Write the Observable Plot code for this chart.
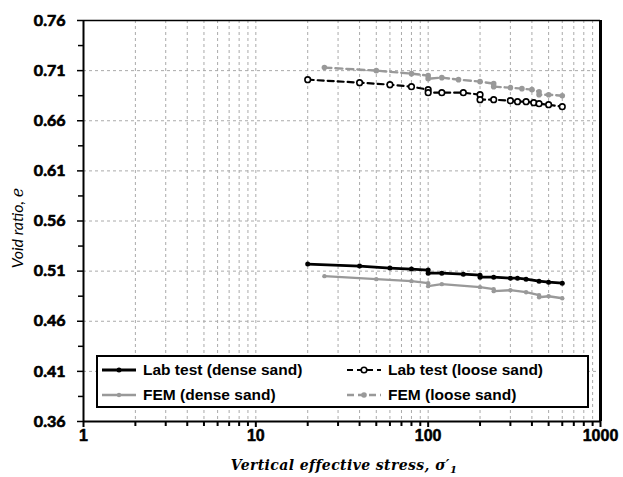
<!DOCTYPE html>
<html>
<head>
<meta charset="utf-8">
<script src="https://cdn.jsdelivr.net/npm/d3@7"></script>
<script src="https://cdn.jsdelivr.net/npm/@observablehq/plot@0.6"></script>
<style>
  body { margin: 0; background: #fff; }
  #wrap { position: relative; width: 623px; height: 477px; overflow: hidden; }
  #ytitle { position: absolute; left: 17px; top: 228px; transform: translate(-50%, -50%) rotate(-90deg);
    font-family: Lato, "Open Sans", sans-serif; font-style: italic; font-size: 16px; white-space: nowrap; color: #000; }
  #xtitle { position: absolute; left: 344px; top: 466px; transform: translate(-50%, -50%);
    font-family: "DejaVu Serif", serif; font-style: italic; font-weight: bold; font-size: 14px; white-space: nowrap; letter-spacing: 0.4px; }
  #legend { position: absolute; left: 96px; top: 355px; width: 489px; height: 49px; border: 2px solid #000; background: #fff;
    font-family: "Liberation Sans", Arial, sans-serif; font-weight: bold; font-size: 15.5px; }
  .item { position: absolute; display: flex; align-items: center; white-space: nowrap; }
  .item svg { margin-right: 6px; }
</style>
</head>
<body>
<div id="wrap"></div>
<script>
// ---- data ----
const labDenseStress = [20, 40, 60, 80, 100, 100, 120, 160, 200, 200, 240, 300, 330, 370, 440, 500, 600];
const labDenseVoid   = [0.517, 0.515, 0.513, 0.512, 0.511, 0.508, 0.508, 0.507, 0.506, 0.504, 0.504, 0.503, 0.503, 0.502, 0.500, 0.499, 0.498];

const labLooseStress = [20, 40, 60, 80, 100, 100, 120, 160, 200, 200, 240, 300, 330, 370, 410, 440, 500, 600];
const labLooseVoid   = [0.701, 0.698, 0.696, 0.694, 0.691, 0.688, 0.688, 0.688, 0.686, 0.681, 0.681, 0.680, 0.679, 0.679, 0.678, 0.677, 0.676, 0.674];

const femDenseStress = [25, 50, 80, 100, 100, 120, 200, 240, 240, 300, 370, 440, 440, 500, 600];
const femDenseVoid   = [0.505, 0.502, 0.500, 0.498, 0.495, 0.497, 0.494, 0.492, 0.490, 0.491, 0.489, 0.486, 0.484, 0.485, 0.483];

const femLooseStress = [25, 50, 80, 100, 100, 120, 150, 200, 240, 240, 300, 350, 400, 440, 440, 500, 600];
const femLooseVoid   = [0.713, 0.710, 0.707, 0.705, 0.702, 0.703, 0.701, 0.699, 0.697, 0.694, 0.693, 0.692, 0.691, 0.689, 0.686, 0.686, 0.685];

const seriesNames = ["Lab test (dense sand)", "Lab test (loose sand)", "FEM (dense sand)", "FEM (loose sand)"];

const xTickLabels = [1, 10, 100, 1000];
const yTickLabels = [0.36, 0.41, 0.46, 0.51, 0.56, 0.61, 0.66, 0.71, 0.76];

// ---- derived tables ----
const toRows = (xs, ys) => xs.map((x, i) => ({x, y: ys[i]}));
const labDense = toRows(labDenseStress, labDenseVoid);
const labLoose = toRows(labLooseStress, labLooseVoid);
const femDense = toRows(femDenseStress, femDenseVoid);
const femLoose = toRows(femLooseStress, femLooseVoid);

const minorX = [];
for (const d of [1, 10, 100]) for (let k = 2; k <= 9; k++) minorX.push(d * k);
const gridX = [...minorX, 10, 100];
const gridY = yTickLabels.slice(1, -1);
const minorY = yTickLabels.slice(0, -1).map(v => +(v + 0.025).toFixed(3));

const gray = "#999";

const plot = Plot.plot({
  width: 623, height: 477,
  marginLeft: 83, marginRight: 23, marginTop: 20, marginBottom: 56,
  style: {background: "#fff", fontFamily: "Liberation Sans, Arial, sans-serif", color: "#000"},
  x: {type: "log", domain: [1, 1000]},
  y: {type: "linear", domain: [0.36, 0.76]},
  marks: [
    Plot.gridX(gridX, {stroke: "#aaa", strokeOpacity: 1, strokeDasharray: "3,3", strokeWidth: 1}),
    Plot.gridY(gridY, {stroke: "#aaa", strokeOpacity: 1, strokeDasharray: "3,3", strokeWidth: 1}),
    // frame
    Plot.ruleY([0.76], {stroke: "#000", strokeWidth: 1.5}),
    Plot.ruleX([1000], {stroke: "#000", strokeWidth: 3}),
    Plot.ruleX([1], {stroke: "#000", strokeWidth: 2}),
    Plot.ruleY([0.36], {stroke: "#000", strokeWidth: 2}),
    // axis ticks
    Plot.axisX(xTickLabels, {tickSize: 6, tickFormat: () => "", label: null, strokeWidth: 2}),
    Plot.axisX(minorX, {tickSize: 5, tickFormat: () => "", label: null, strokeWidth: 2}),
    Plot.axisY(yTickLabels, {tickSize: 6, tickFormat: () => "", label: null, strokeWidth: 1.5}),
    Plot.axisY(minorY, {tickSize: 5, tickFormat: () => "", label: null, strokeWidth: 1.5}),
    // tick labels as text marks positioned through the scales
    Plot.text(xTickLabels, {x: d => d, frameAnchor: "bottom", dy: 19, text: d => String(d), fontSize: 16,
      fontFamily: "Liberation Sans, Arial, sans-serif", fontWeight: "bold", fill: "#000", stroke: "#000", strokeWidth: 0.5}),
    Plot.text(yTickLabels, {y: d => d, frameAnchor: "left", dx: -18, textAnchor: "end", text: d => d.toFixed(2), fontSize: 16,
      fontFamily: "Lato, Open Sans, sans-serif", fontWeight: "bold", fill: "#000", stroke: "#000", strokeWidth: 0.7}),
    // series
    Plot.line(femDense, {x: "x", y: "y", stroke: gray, strokeWidth: 2.4}),
    Plot.dot(femDense, {x: "x", y: "y", r: 2.2, fill: gray}),
    Plot.line(femLoose, {x: "x", y: "y", stroke: gray, strokeWidth: 2.4, strokeDasharray: "7,4"}),
    Plot.dot(femLoose, {x: "x", y: "y", r: 2.8, fill: gray}),
    Plot.line(labDense, {x: "x", y: "y", stroke: "#000", strokeWidth: 2.8}),
    Plot.dot(labDense, {x: "x", y: "y", r: 2.5, fill: "#000"}),
    Plot.line(labLoose, {x: "x", y: "y", stroke: "#000", strokeWidth: 2.2, strokeDasharray: "6,4"}),
    Plot.dot(labLoose, {x: "x", y: "y", r: 2.8, fill: "#fff", stroke: "#000", strokeWidth: 1.6})
  ]
});

const wrap = document.getElementById("wrap");
wrap.appendChild(plot);

// titles
const yt = document.createElement("div");
yt.id = "ytitle";
yt.innerHTML = "Void ratio, <span style=\"font-family:'DejaVu Serif',serif\">e</span>";
wrap.appendChild(yt);
const xt = document.createElement("div");
xt.id = "xtitle";
xt.innerHTML = "Vertical effective stress, σ′<sub style=\"font-size:10px\">1</sub>";
wrap.appendChild(xt);

// legend
const styles = [
  {stroke: "#000", dash: "", fill: "#000", mstroke: "none", r: 2.5, w: 2.8},
  {stroke: "#000", dash: "6,4", fill: "#fff", mstroke: "#000", r: 2.8, w: 2.2},
  {stroke: gray, dash: "", fill: gray, mstroke: "none", r: 2.2, w: 2.4},
  {stroke: gray, dash: "7,4", fill: gray, mstroke: "none", r: 2.8, w: 2.4}
];
const pos = [[3, 4], [248, 4], [3, 29], [248, 29]];
const lg = document.createElement("div");
lg.id = "legend";
seriesNames.forEach((name, i) => {
  const s = styles[i];
  const it = document.createElement("div");
  it.className = "item";
  it.style.left = pos[i][0] + "px";
  it.style.top = pos[i][1] + "px";
  it.innerHTML = `<svg width="36" height="12"><line x1="1" y1="6" x2="35" y2="6" stroke="${s.stroke}" stroke-width="${s.w}" stroke-dasharray="${s.dash}"/>` +
    `<circle cx="18" cy="6" r="${s.r}" fill="${s.fill}" stroke="${s.mstroke}" stroke-width="1.6"/></svg><span>${name}</span>`;
  lg.appendChild(it);
});
wrap.appendChild(lg);
</script>
</body>
</html>
